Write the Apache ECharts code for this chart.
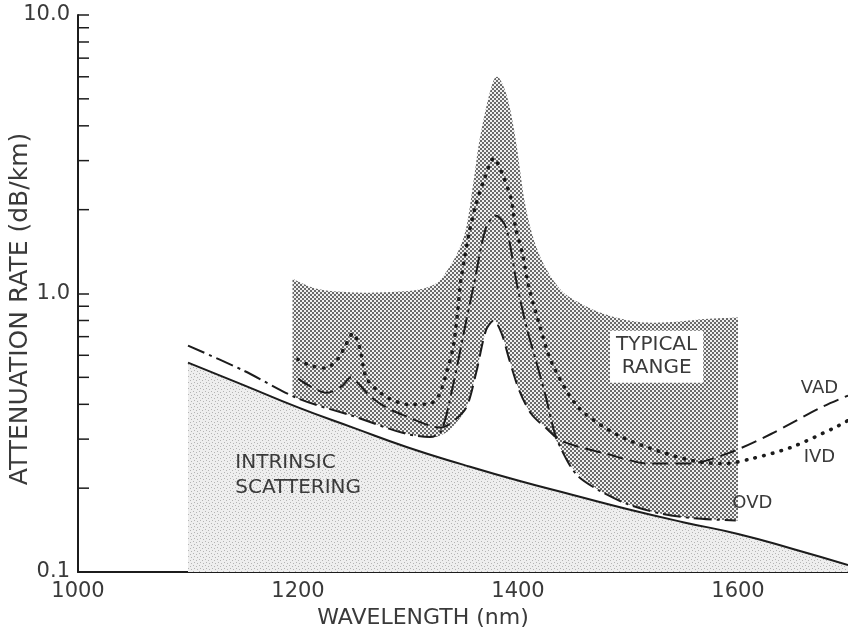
<!DOCTYPE html>
<html><head><meta charset="utf-8">
<script src="https://cdn.jsdelivr.net/npm/echarts@6.0.0/dist/echarts.min.js"></script>
<style>html,body{margin:0;padding:0;background:#fff;}#chart{width:848px;height:634px;}</style>
</head><body><div id="chart"></div>
<script>
// ---- data ----
const xTickLabels = ['1000', '1200', '1400', '1600'];
const yTickLabels = ['0.1', '1.0', '10.0'];
const yMinorTickValues = [0.2, 0.3, 0.4, 0.5, 0.6, 0.7, 0.8, 0.9, 2, 3, 4, 5, 6, 7, 8, 9];

const intrinsicX = [1100, 1150, 1200, 1250, 1300, 1350, 1400, 1450, 1500, 1550, 1600, 1650, 1700];
const intrinsicY = [0.565, 0.47, 0.39, 0.33, 0.28, 0.243, 0.213, 0.189, 0.168, 0.151, 0.137, 0.121, 0.106];

const ovdX = [1100, 1150, 1200, 1250, 1295, 1320, 1330, 1340, 1353, 1360, 1371, 1380, 1389, 1399, 1408, 1416, 1425, 1434, 1445, 1455, 1475, 1500, 1530, 1560, 1598];
const ovdY = [0.65, 0.53, 0.42, 0.363, 0.316, 0.305, 0.32, 0.45, 0.8, 1.08, 1.73, 1.9, 1.73, 1.08, 0.75, 0.58, 0.43, 0.31, 0.25, 0.22, 0.195, 0.175, 0.162, 0.156, 0.153];

const vadX = [1200, 1213, 1226, 1240, 1248, 1256, 1265, 1280, 1300, 1320, 1330, 1340, 1353, 1362, 1371, 1378, 1385, 1392, 1401, 1412, 1425, 1440, 1480, 1520, 1555, 1590, 1630, 1675, 1700];
const vadY = [0.495, 0.46, 0.44, 0.465, 0.5, 0.47, 0.43, 0.39, 0.36, 0.335, 0.33, 0.345, 0.39, 0.52, 0.74, 0.8, 0.72, 0.58, 0.45, 0.37, 0.33, 0.295, 0.266, 0.245, 0.245, 0.266, 0.313, 0.389, 0.43];

const ivdX = [1200, 1212, 1225, 1236, 1244, 1250, 1256, 1262, 1272, 1283, 1300, 1318, 1328, 1335, 1341, 1345, 1348, 1356, 1362, 1369, 1378, 1387, 1394, 1398, 1404, 1410, 1420, 1431, 1455, 1491, 1530, 1561, 1588, 1612, 1648, 1688, 1700];
const ivdY = [0.58, 0.55, 0.54, 0.58, 0.66, 0.72, 0.64, 0.5, 0.45, 0.42, 0.4, 0.4, 0.43, 0.52, 0.64, 0.85, 1.11, 1.68, 2.1, 2.55, 3.06, 2.61, 2.16, 1.71, 1.39, 1.05, 0.76, 0.56, 0.39, 0.31, 0.27, 0.25, 0.245, 0.255, 0.28, 0.33, 0.35];

const bandTopX = [1195, 1217, 1247, 1277, 1308, 1326, 1335, 1345, 1353, 1360, 1365, 1374, 1381, 1390, 1398, 1407, 1419, 1437, 1455, 1480, 1510, 1540, 1570, 1600];
const bandTopY = [1.13, 1.04, 1.01, 1.01, 1.03, 1.09, 1.2, 1.4, 1.73, 2.6, 3.55, 5.2, 6.0, 5.1, 3.55, 2.04, 1.39, 1.05, 0.93, 0.84, 0.79, 0.79, 0.81, 0.82];

const bandLowX = [1195, 1250, 1295, 1320, 1330, 1340, 1353, 1362, 1371, 1378, 1385, 1392, 1401, 1412, 1425, 1434, 1445, 1455, 1475, 1500, 1530, 1560, 1600];
const bandLowY = [0.425, 0.363, 0.316, 0.305, 0.31, 0.33, 0.39, 0.52, 0.74, 0.8, 0.72, 0.58, 0.45, 0.37, 0.33, 0.3, 0.25, 0.225, 0.195, 0.175, 0.162, 0.156, 0.153];

// ---- helpers ----
const FONT = "'DejaVu Sans', sans-serif";
const TXT = '#3a3a3a';
const INK = '#1c1c1c';
const pairs = (xs, ys) => xs.map((x, i) => [x, ys[i]]);

function makePattern(size, draw) {
  const c = document.createElement('canvas');
  c.width = size; c.height = size;
  const g = c.getContext('2d');
  draw(g);
  return { image: c, repeat: 'repeat' };
}
const bandPattern = makePattern(4, g => {
  g.fillStyle = '#f0f0f0'; g.fillRect(0, 0, 4, 4);
  g.fillStyle = '#6a6a6a'; g.fillRect(0, 0, 2, 2); g.fillRect(2, 2, 2, 2);
});
const speckPattern = makePattern(6, g => {
  g.fillStyle = '#eeeeee'; g.fillRect(0, 0, 6, 6);
  g.fillStyle = '#b4b4b4';
  g.fillRect(1, 1, 1, 1); g.fillRect(4, 2, 1, 1); g.fillRect(2, 4, 1, 1); g.fillRect(5, 5, 1, 1);
});

function catmull(pts, steps) {
  const out = [];
  const n = pts.length;
  for (let i = 0; i < n - 1; i++) {
    const p0 = pts[Math.max(i - 1, 0)], p1 = pts[i], p2 = pts[i + 1], p3 = pts[Math.min(i + 2, n - 1)];
    for (let s = 0; s < steps; s++) {
      const t = s / steps, t2 = t * t, t3 = t2 * t;
      const f = k => 0.5 * ((2 * p1[k]) + (-p0[k] + p2[k]) * t + (2 * p0[k] - 5 * p1[k] + 4 * p2[k] - p3[k]) * t2 + (-p0[k] + 3 * p1[k] - 3 * p2[k] + p3[k]) * t3);
      out.push([f(0), f(1)]);
    }
  }
  out.push(pts[n - 1]);
  return out;
}

const chart = echarts.init(document.getElementById('chart'), null, { renderer: 'canvas' });

const option = {
  animation: false,
  backgroundColor: '#ffffff',
  grid: { left: 78, right: 0, top: 15, bottom: 62, containLabel: false, outerBoundsMode: 'none' },
  xAxis: {
    type: 'value', min: 1000, max: 1700, interval: 200,
    axisLine: { show: true, lineStyle: { color: INK, width: 2 } },
    axisTick: { show: true, inside: true, length: 9, lineStyle: { color: INK, width: 1.5 } },
    axisLabel: {
      margin: 9, fontSize: 21, fontFamily: FONT, color: TXT, showMaxLabel: false,
      formatter: (v, i) => (xTickLabels[i] !== undefined ? xTickLabels[i] : '')
    },
    splitLine: { show: false }
  },
  yAxis: {
    type: 'log', logBase: 10, min: 0.1, max: 10,
    axisLine: { show: true, lineStyle: { color: INK, width: 2 } },
    axisTick: { show: true, inside: true, length: 11, lineStyle: { color: INK, width: 1.5 } },
    axisLabel: {
      margin: 8, fontSize: 21, fontFamily: FONT, color: TXT,
      formatter: (v, i) => (yTickLabels[i] !== undefined ? yTickLabels[i] : '')
    },
    splitLine: { show: false }, minorTick: { show: false }
  },
  series: [
    {
      name: 'Intrinsic scattering', type: 'line', data: pairs(intrinsicX, intrinsicY),
      smooth: 0.5, symbol: 'none', z: 1,
      lineStyle: { color: INK, width: 2 },
      areaStyle: { color: speckPattern, origin: 'start', opacity: 1 }
    },
    {
      name: 'Typical range', type: 'custom', z: 2,
      data: [[bandTopX[0], bandTopY[0]]],
      renderItem: (params, api) => {
        const top = catmull(bandTopX.map((x, i) => api.coord([x, bandTopY[i]])), 8);
        const low = catmull(bandLowX.map((x, i) => api.coord([x, bandLowY[i]])), 8);
        const pts = top.concat(low.reverse());
        return { type: 'polygon', shape: { points: pts }, style: { fill: bandPattern, stroke: null } };
      }
    },
    {
      name: 'OVD', type: 'line', data: pairs(ovdX, ovdY), smooth: 0.3, symbol: 'none', z: 4,
      lineStyle: { color: INK, width: 2, type: [18, 5, 3, 5] }
    },
    {
      name: 'VAD', type: 'line', data: pairs(vadX, vadY), smooth: 0.3, symbol: 'none', z: 4,
      lineStyle: { color: INK, width: 2, type: [16, 7] }
    },
    {
      name: 'IVD', type: 'line', data: pairs(ivdX, ivdY), smooth: 0.3, symbol: 'none', z: 4,
      lineStyle: { color: INK, width: 3.6, type: [0.5, 8.5], cap: 'round' }
    },
    {
      name: 'minor ticks', type: 'custom', z: 5,
      data: yMinorTickValues.map(v => [1000, v]),
      renderItem: (params, api) => {
        const p = api.coord([api.value(0), api.value(1)]);
        return { type: 'line', shape: { x1: p[0], y1: p[1], x2: p[0] + 11, y2: p[1] }, style: { stroke: INK, lineWidth: 1.5 } };
      }
    }
  ]
};
chart.setOption(option);

const px = (x, y) => chart.convertToPixel({ gridIndex: 0 }, [x, y]);
const pTyp = px(1526, 0.593), pVad = px(1674, 0.455), pIvd = px(1674, 0.259), pOvd = px(1613, 0.176), pInt = px(1143, 0.223);
chart.setOption({
  graphic: [
    { type: 'text', x: 20, y: 309, rotation: Math.PI / 2, z: 10,
      style: { text: 'ATTENUATION RATE (dB/km)', font: '25px ' + FONT, fill: TXT, align: 'center', verticalAlign: 'middle' } },
    { type: 'text', x: 423, y: 618, z: 10,
      style: { text: 'WAVELENGTH (nm)', font: '22px ' + FONT, fill: TXT, align: 'center', verticalAlign: 'middle' } },
    { type: 'text', x: pTyp[0], y: pTyp[1], z: 10,
      style: { text: 'TYPICAL\nRANGE', font: '20px ' + FONT, fill: TXT, align: 'center', verticalAlign: 'middle',
               lineHeight: 23, backgroundColor: '#ffffff', padding: [3, 6, 3, 6] } },
    { type: 'text', x: pVad[0], y: pVad[1], z: 10,
      style: { text: 'VAD', font: '18px ' + FONT, fill: TXT, align: 'center', verticalAlign: 'middle' } },
    { type: 'text', x: pIvd[0], y: pIvd[1], z: 10,
      style: { text: 'IVD', font: '18px ' + FONT, fill: TXT, align: 'center', verticalAlign: 'middle' } },
    { type: 'text', x: pOvd[0], y: pOvd[1], z: 10,
      style: { text: 'OVD', font: '18px ' + FONT, fill: TXT, align: 'center', verticalAlign: 'middle' } },
    { type: 'text', x: pInt[0], y: pInt[1], z: 10,
      style: { text: 'INTRINSIC\nSCATTERING', font: '20px ' + FONT, fill: TXT, align: 'left', verticalAlign: 'middle', lineHeight: 25 } }
  ]
});
</script>
</body></html>
